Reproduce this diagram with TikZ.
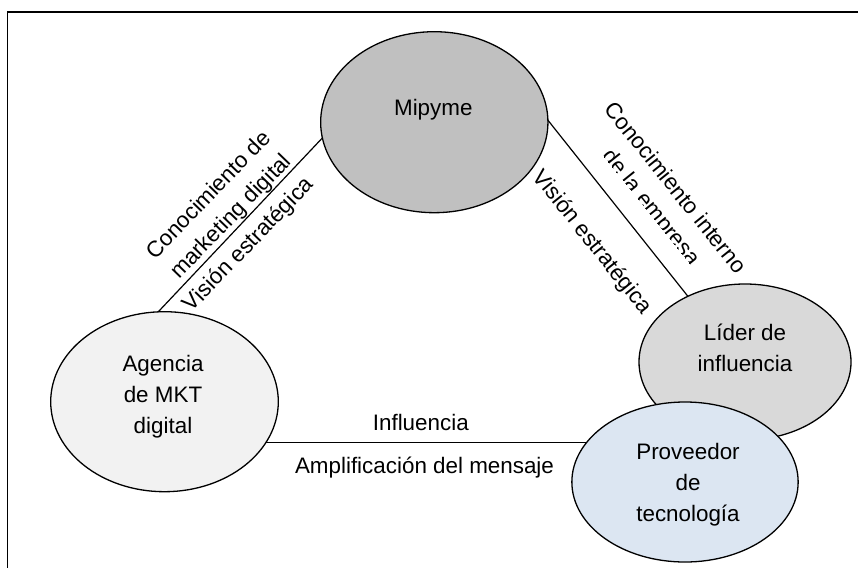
\documentclass[tikz,border=0pt]{standalone}
\usepackage{fontspec}
\setmainfont{Liberation Sans}
\usetikzlibrary{shapes.geometric}
\definecolor{mipymefill}{HTML}{C0C0C0}
\definecolor{agenciafill}{HTML}{F2F2F2}
\definecolor{liderfill}{HTML}{D9D9D9}
\definecolor{provfill}{HTML}{DCE6F2}
\begin{document}
\begin{tikzpicture}[x=1pt,y=-1pt,
  every node/.style={inner sep=0pt, outer sep=0pt},
  actor/.style={ellipse, draw=black, line width=1.3pt},
  txt/.style={font=\fontsize{22.4}{31}\selectfont, align=center},
  link/.style={draw=black, line width=1.2pt}]
\useasboundingbox (0,0) rectangle (858,567);
% open frame: top and left edges
\draw[line width=1.6pt] (7.5,572) -- (7.5,12) -- (862,12);

% actors
\node[actor, fill=mipymefill, minimum width=227.3pt, minimum height=181pt] (mipyme) at (434.3,122.2) {};
\node[actor, fill=agenciafill, minimum width=227.6pt, minimum height=180pt] (agencia) at (164.5,401.7) {};
\node[actor, fill=liderfill, minimum width=212pt, minimum height=156pt] (lider) at (745,362) {};
\node[actor, fill=provfill, minimum width=226.3pt, minimum height=160pt] (proveedor) at (685,482) {};

% actor names
\node[txt, anchor=base] (mipyme-t) at (433.3,115) {Mipyme};
\node[txt] (agencia-t) at (163,396.7) {Agencia\\de MKT\\digital};
\node[txt] (lider-t) at (745,348) {Líder de\\influencia};
\node[txt] (proveedor-t) at (688,484.6) {Proveedor\\de\\tecnología};

% relations
\draw[link] (agencia.94.7) -- (mipyme.188);
\draw[link] (mipyme.1) -- (lider.131);
\draw[link] (agencia.-22) -- (agencia.-22 -| proveedor.158);

% relation labels
\node[txt, rotate=46] (l-know) at (220.5,206.5) {Conocimiento de\\marketing digital};
\node[txt, rotate=46] (l-vision) at (249,245) {Visión estratégica};
\node[txt, rotate=-51.3] (r-vision) at (591.7,242.5) {Visión estratégica};
\begin{scope}[shift={(662.3,198.4)}, rotate=-51.3]
  \clip (-160,-45) rectangle (160,19.5);
  \node[txt, transform shape] (r-know) at (0,0) {Conocimiento interno\\de la empresa};
\end{scope}
\node[txt, anchor=base] (h-infl) at (420.8,430.7) {Influencia};
\node[txt, anchor=base] (h-ampl) at (424.5,473.3) {Amplificación del mensaje};
\end{tikzpicture}
\end{document}
